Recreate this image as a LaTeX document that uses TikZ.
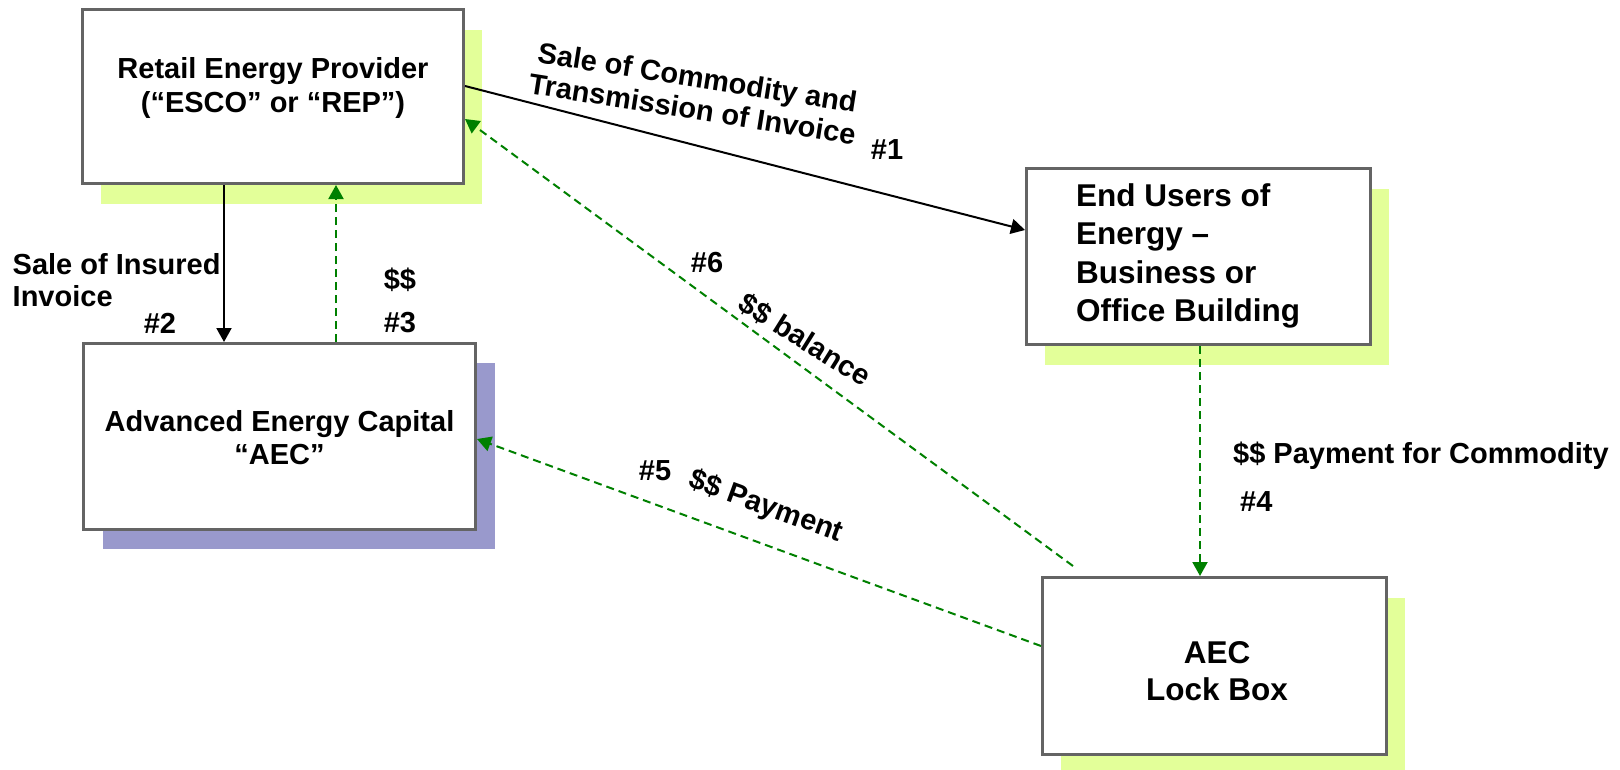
\documentclass[tikz,border=0pt]{standalone}
\usepackage{fontspec}
\setmainfont{Liberation Sans}
\usetikzlibrary{arrows.meta,shadows}
\definecolor{limeshade}{RGB}{227,255,153}
\definecolor{lilacshade}{RGB}{153,153,204}
\definecolor{flowgreen}{RGB}{0,128,0}
\definecolor{boxgray}{RGB}{100,100,100}

\begin{document}
\begin{tikzpicture}[x=1pt,y=-1pt]

\tikzset{
  box/.style={rectangle, draw=boxgray, line width=3pt, fill=white},
  limebox/.style={box, drop shadow={shadow xshift=18pt, shadow yshift=-20pt, fill=limeshade, opacity=1}},
  lilacbox/.style={box, drop shadow={shadow xshift=19pt, shadow yshift=-19pt, fill=lilacshade, opacity=1}},
  boxtext/.style={font=\fontsize{29}{34}\selectfont\bfseries, align=center, inner sep=0pt},
  bigtext/.style={font=\fontsize{31.5}{38.5}\selectfont\bfseries, inner sep=0pt},
  lbl/.style={font=\fontsize{29}{32}\selectfont\bfseries, inner sep=0pt},
  plainarrow/.style={draw=black, line width=2pt, -{Triangle[length=14pt,width=15pt]}},
  moneyarrow/.style={draw=flowgreen, line width=2pt, dash pattern=on 8pt off 5pt, -{Triangle[length=14pt,width=15pt]}}
}

\useasboundingbox (0,0) rectangle (1620,769);

\node[limebox, minimum width=381pt, minimum height=174pt] (rep) at (273,96.5) {};
\node[lilacbox, minimum width=392pt, minimum height=186pt] (aec) at (279.5,436.5) {};
\node[limebox, minimum width=344pt, minimum height=176pt] (end) at (1198.5,256.5) {};
\node[limebox, minimum width=344pt, minimum height=177pt] (lock) at (1214.5,666) {};

\node[boxtext] (reptext) at (273,88) {Retail Energy Provider\\(“ESCO” or “REP”)};
\node[boxtext, font=\fontsize{29}{33}\selectfont\bfseries] (aectext) at (279.5,437.5) {Advanced Energy Capital\\“AEC”};
\node[bigtext, align=left, anchor=west] (endtext) at (1076,256) {End Users of\\Energy –\\Business or\\Office Building};
\node[bigtext, align=center, font=\fontsize{31.5}{37.5}\selectfont\bfseries] (locktext) at (1217,671) {AEC\\Lock Box};

\coordinate (balstart) at (1073,566);

\draw[plainarrow] ([yshift=10.5pt]rep.east) -- ([yshift=26.5pt]end.west);
\draw[plainarrow] ([xshift=-49pt]rep.south) -- ([xshift=-49pt]rep.south |- aec.north);
\draw[moneyarrow] ([xshift=63pt]rep.south |- aec.north) -- ([xshift=63pt]rep.south);
\draw[moneyarrow] ([xshift=1.5pt]end.south) -- ([xshift=1.5pt]end.south |- lock.north);
\draw[moneyarrow] ([yshift=20pt]lock.west) -- ([yshift=-2.5pt]aec.east);
\draw[moneyarrow] (balstart) -- ([yshift=-22.5pt]rep.east);

\node[lbl, rotate=-9, align=center] (salelbl) at (695,93) {Sale of Commodity and\\Transmission of Invoice};
\node[lbl] (numone) at (887,150) {\#1};
\node[lbl, align=left, anchor=west] (insuredlbl) at (12.5,280) {Sale of Insured\\Invoice};
\node[lbl] (numtwo) at (160,323) {\#2};
\node[lbl] (cashlbl) at (400,280) {\$\$};
\node[lbl] (numthree) at (400,323) {\#3};
\node[lbl, anchor=west] (paylbl) at (1233,456) {\$\$ Payment for Commodity};
\node[lbl, anchor=west] (numfour) at (1240,502) {\#4};
\node[lbl] (numfive) at (655,471) {\#5};
\node[lbl, rotate=-20] (paymentlbl) at (766,507) {\$\$ Payment};
\node[lbl] (numsix) at (707,263) {\#6};
\node[lbl, rotate=-32] (balancelbl) at (805,340) {\$\$ balance};

\end{tikzpicture}
\end{document}
